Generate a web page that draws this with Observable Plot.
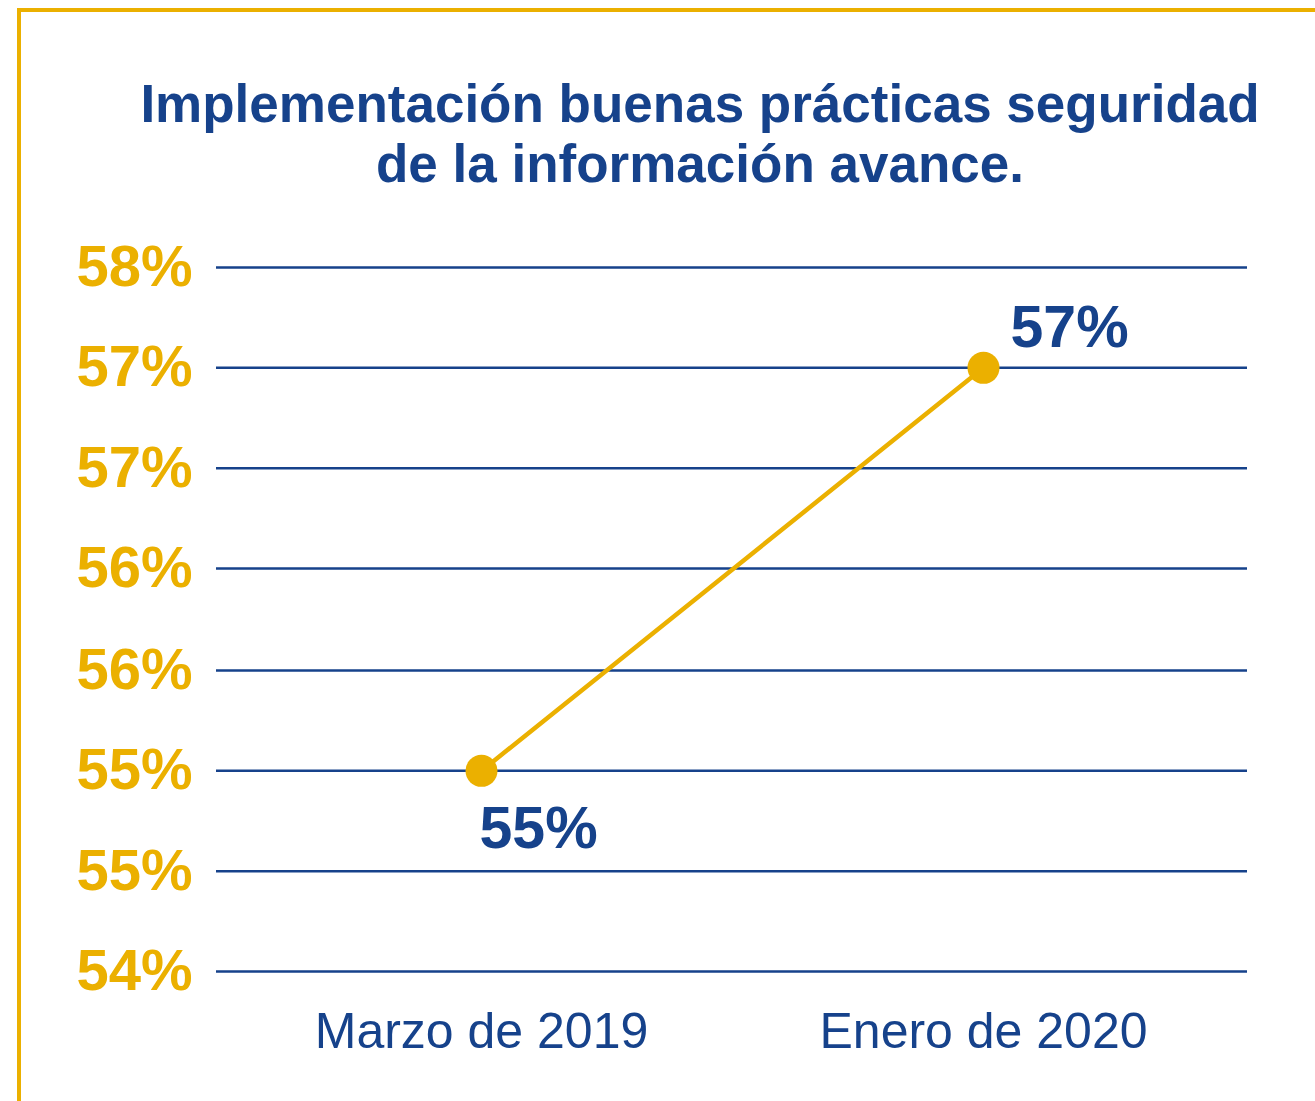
<!DOCTYPE html>
<html>
<head>
<meta charset="utf-8">
<script src="https://cdn.jsdelivr.net/npm/d3@7"></script>
<script src="https://cdn.jsdelivr.net/npm/@observablehq/plot@0.6"></script>
<style>
  html, body { margin: 0; padding: 0; background: #fff; }
  body { width: 1315px; height: 1101px; position: relative; overflow: hidden; font-family: "Liberation Sans", Arial, Helvetica, sans-serif; }
  #frame { position: absolute; left: 17px; top: 8px; right: -10px; bottom: -10px; border-left: 4px solid #ebb000; border-top: 4px solid #ebb000; }
  #title { position: absolute; left: 0; width: 1400px; top: 74px; text-align: center; font-weight: bold; font-size: 53px; line-height: 60px; color: #16428b; }
  #chart { position: absolute; left: 0; top: 200px; }
</style>
</head>
<body>
<div id="frame"></div>
<div id="title">Implementación buenas prácticas seguridad<br>de la información avance.</div>
<div id="chart"></div>
<script>
const categories = ["Marzo de 2019", "Enero de 2020"];
const values = [0.5514, 0.5743];
const pointLabels = ["55%", "57%"];
const yTicks = [0.54, 0.5457, 0.5514, 0.5571, 0.5629, 0.5686, 0.5743, 0.58];
const yTickLabels = ["54%", "55%", "55%", "56%", "56%", "57%", "57%", "58%"];

const BLUE = "#16428b";
const YELLOW = "#ebb000";

const data = categories.map((c, i) => ({ cat: c, value: values[i], label: pointLabels[i] }));
const tickLabel = new Map(yTicks.map((t, i) => [t, yTickLabels[i]]));

const chart = Plot.plot({
  width: 1315,
  height: 901,
  marginTop: 67,
  marginBottom: 130,
  marginLeft: 216,
  marginRight: 68,
  style: { fontFamily: "'Liberation Sans', Arial, Helvetica, sans-serif", overflow: "visible", background: "transparent" },
  x: { type: "point", domain: categories, padding: 0.525, label: null },
  y: { domain: [0.54, 0.58], label: null },
  marks: [
    Plot.ruleY(yTicks, { stroke: BLUE, strokeWidth: 2.5 }),
    Plot.axisY({ ticks: yTicks, tickSize: 0, tickPadding: 24, tickFormat: d => tickLabel.get(d), fill: YELLOW, fontSize: 58, fontWeight: "bold", label: null }),
    Plot.axisX({ tickSize: 0, tickPadding: 41, fill: BLUE, fontSize: 50, label: null }),
    Plot.line(data, { x: "cat", y: "value", stroke: YELLOW, strokeWidth: 4.5 }),
    Plot.dot(data, { x: "cat", y: "value", r: 16, fill: YELLOW, stroke: "none" }),
    Plot.text(data.slice(0, 1), { x: "cat", y: "value", text: "label", textAnchor: "start", dx: -2, dy: 58, fill: BLUE, fontSize: 59, fontWeight: "bold" }),
    Plot.text(data.slice(1), { x: "cat", y: "value", text: "label", textAnchor: "start", dx: 27, dy: -40, fill: BLUE, fontSize: 59, fontWeight: "bold" })
  ]
});
document.getElementById("chart").appendChild(chart);
</script>
</body>
</html>
